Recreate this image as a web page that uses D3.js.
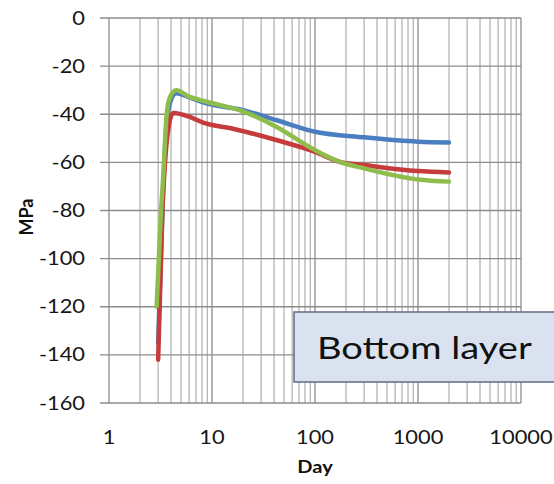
<!DOCTYPE html>
<html>
<head>
<meta charset="utf-8">
<script src="https://cdn.jsdelivr.net/npm/d3@7"></script>
<style>
  body { margin: 0; background: #fff; }
  text { font-family: Lato, "Open Sans", sans-serif; }
</style>
</head>
<body>
<svg id="chart" width="554" height="484"></svg>
<script>
// values
var yTicks = [0, -20, -40, -60, -80, -100, -120, -140, -160];
var xTicks = [1, 10, 100, 1000, 10000];

var blueDays = [3.0, 3.3, 3.6, 4.0, 4.5, 6, 8.9, 20, 42, 100, 300, 1000, 2000];
var blueMPa  = [-135, -80, -45, -34, -31.3, -33, -35.5, -38.3, -42.4, -47.3, -49.6, -51.4, -51.7];

var redDays = [3.0, 3.3, 3.5, 3.8, 4.2, 6, 8.2, 16, 42, 100, 174, 300, 1000, 2000];
var redMPa  = [-142, -80, -60, -45, -39.5, -41, -43.5, -46, -50.7, -55.6, -59.8, -61.1, -63.6, -64.2];

var greenDays = [2.9, 3.2, 3.35, 3.63, 3.9, 4.5, 6, 8.9, 20, 42, 100, 174, 300, 1000, 2000];
var greenMPa  = [-120, -80, -67, -40, -33, -30, -32.7, -34.8, -38.8, -45.2, -54.9, -59.8, -62.5, -67.1, -68];

var svg = d3.select("#chart");

var x = d3.scaleLog().domain([1, 10000]).range([109, 521]);
var y = d3.scaleLinear().domain([0, -160]).range([18, 403]);

// the original looks stretched sideways a little
var stretch = 1.18;

// minor + major vertical grid
var vLines = [];
for (var p = 0; p < 4; p++) {
	for (var k = 1; k < 10; k++) {
		vLines.push(k * Math.pow(10, p));
	}
}
vLines.push(10000);

var grid = svg.append("g");
grid.selectAll("line.v").data(vLines).enter()
	.append("line")
	.attr("x1", function(d) { return x(d); })
	.attr("x2", function(d) { return x(d); })
	.attr("y1", y(0))
	.attr("y2", y(-160))
	.style("stroke", function(d) {
		return xTicks.indexOf(d) >= 0 ? "#8c8c8c" : "#b4b4b4";
	})
	.style("stroke-width", 1.3);

grid.selectAll("line.h").data(yTicks).enter()
	.append("line")
	.attr("x1", 100)
	.attr("x2", x(10000))
	.attr("y1", function(d) { return y(d); })
	.attr("y2", function(d) { return y(d); })
	.style("stroke", "#8c8c8c")
	.style("stroke-width", 1.3);

// y labels
svg.append("g").selectAll("text").data(yTicks).enter()
	.append("text")
	.attr("transform", function(d) {
		return "translate(85," + (y(d) + 6.6) + ") scale(" + stretch + ",1)";
	})
	.style("text-anchor", "end")
	.style("font-size", "18.5px")
	.style("fill", "#151515")
	.text(function(d) { return d; });

// x labels
svg.append("g").selectAll("text").data(xTicks).enter()
	.append("text")
	.attr("transform", function(d) {
		return "translate(" + x(d) + ",444) scale(" + stretch + ",1)";
	})
	.style("text-anchor", "middle")
	.style("font-size", "18.5px")
	.style("fill", "#151515")
	.text(function(d) { return d; });

svg.append("text")
	.attr("transform", "translate(33,217) rotate(-90)")
	.style("text-anchor", "middle")
	.style("font-size", "18px")
	.style("font-weight", "bold")
	.style("fill", "#111")
	.text("MPa");

svg.append("text")
	.attr("transform", "translate(315,473) scale(" + stretch + ",1)")
	.style("text-anchor", "middle")
	.style("font-size", "17px")
	.style("font-weight", "bold")
	.style("fill", "#111")
	.text("Day");

// series
var series = [
	{ days: blueDays, mpa: blueMPa, color: "#4a7ec0" },
	{ days: redDays, mpa: redMPa, color: "#c63b3b" },
	{ days: greenDays, mpa: greenMPa, color: "#8fbd4c" }
];

var line = d3.line()
	.x(function(d) { return x(d[0]); })
	.y(function(d) { return y(d[1]); })
	.curve(d3.curveMonotoneX);

svg.append("g").selectAll("path").data(series).enter()
	.append("path")
	.attr("d", function(s) {
		return line(d3.zip(s.days, s.mpa));
	})
	.style("fill", "none")
	.style("stroke", function(s) { return s.color; })
	.style("stroke-width", 4.5)
	.style("stroke-linecap", "round")
	.style("stroke-linejoin", "round");

// label box
svg.append("rect")
	.attr("x", 294)
	.attr("y", 312)
	.attr("width", 262)
	.attr("height", 70)
	.style("fill", "#dae2f0")
	.style("stroke", "#5f6b82")
	.style("stroke-width", 1.5);

svg.append("text")
	.attr("transform", "translate(317,359) scale(1.21,1)")
	.style("font-size", "31.5px")
	.style("fill", "#111")
	.text("Bottom layer");
</script>
</body>
</html>
